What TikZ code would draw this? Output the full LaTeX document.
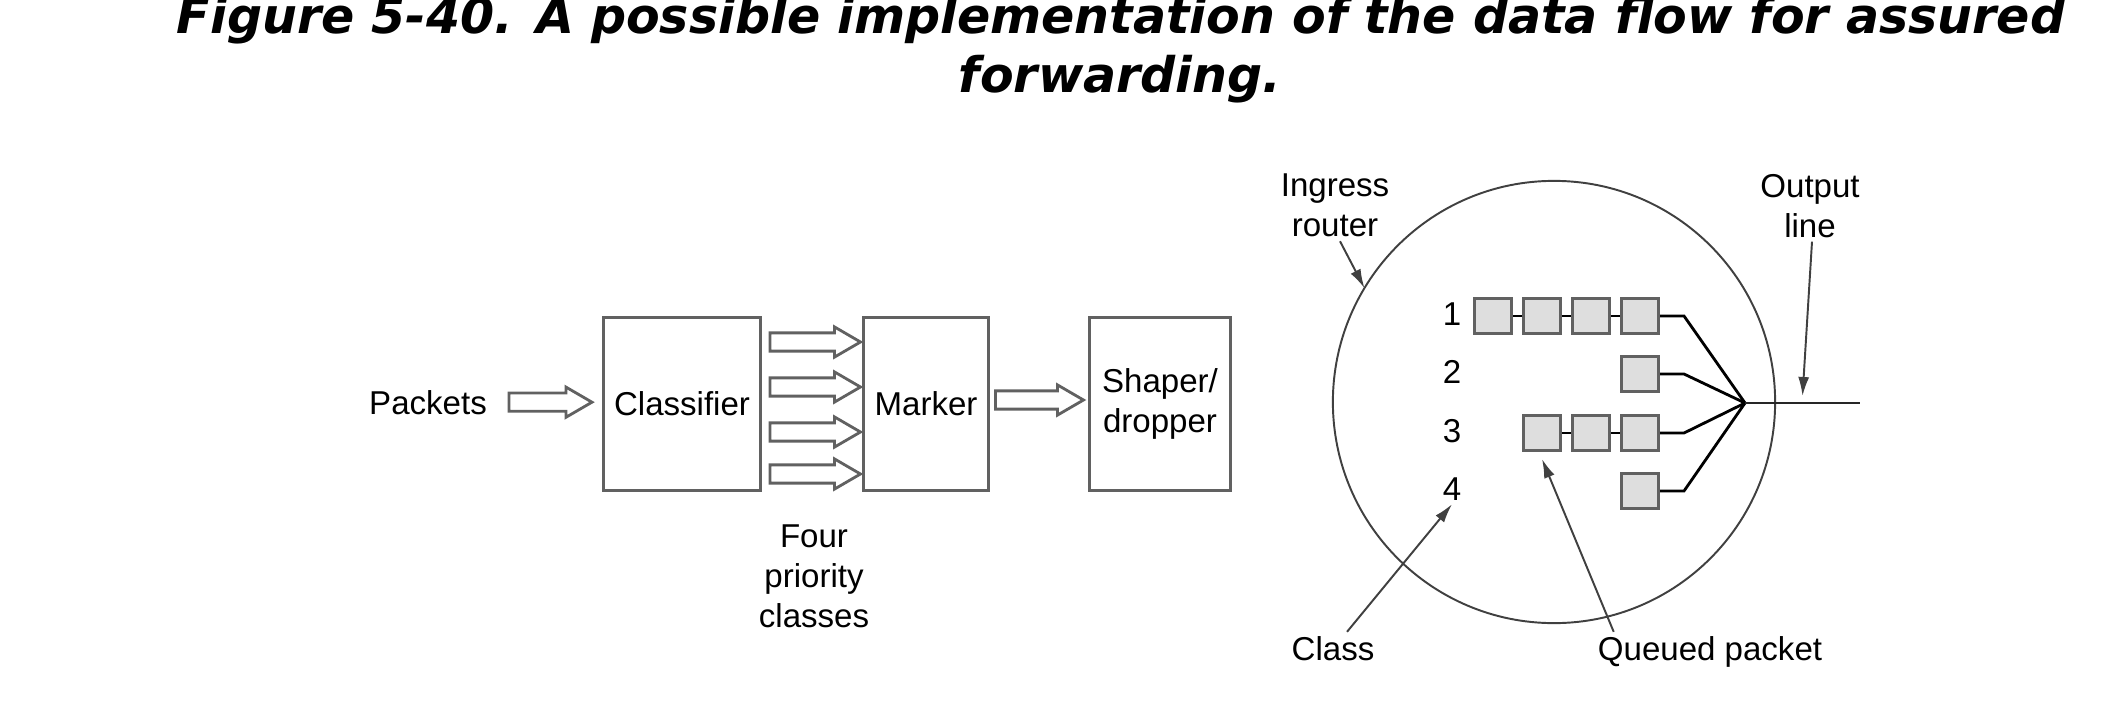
\documentclass[tikz,border=0pt]{standalone}
\usepackage{fontspec}
\setmainfont{Liberation Sans}
\newfontfamily\figtitlefont{DejaVu Sans}
\usepackage{tikz}
\usetikzlibrary{arrows.meta, positioning, shapes, calc}

\definecolor{edgegray}{gray}{0.38}
\definecolor{pktgray}{gray}{0.87}

% hollow block arrow from #1 to the x of #2
\newcommand{\fatarrow}[2]{%
  \draw[hollow] let \p1=#1, \p2=#2 in
    (\x1,\y1+2.6pt) -- (\x2-7.4pt,\y1+2.6pt) -- (\x2-7.4pt,\y1+4.3pt) -- (\x2,\y1)
    -- (\x2-7.4pt,\y1-4.3pt) -- (\x2-7.4pt,\y1-2.6pt) -- (\x1,\y1-2.6pt) -- cycle;}

\begin{document}
\begin{tikzpicture}[x=0.01cm, y=-0.01cm,
    txt/.style={font=\fontsize{9.4pt}{11.3pt}\selectfont, inner sep=1pt, align=center},
    block/.style={txt, draw=edgegray, line width=0.85pt, minimum height=1.73cm},
    pkt/.style={draw=edgegray, fill=pktgray, line width=0.85pt, minimum width=0.37cm, minimum height=0.35cm, inner sep=0pt},
    hollow/.style={draw=edgegray, fill=white, line width=0.8pt},
    link/.style={line width=0.6pt},
    ptr/.style={draw=black!75, line width=0.55pt, -{Latex[length=0.19cm, width=0.11cm]}},
    figtitle/.style={font=\figtitlefont\fontsize{13.95pt}{16.8pt}\selectfont\bfseries\itshape, inner sep=0pt}]
    % Page
    \path[use as bounding box, fill=white] (0,0) rectangle (2118,721);

    % Title
    \node[figtitle, anchor=base] (cap1) at (1121,33) {Figure 5-40. A possible implementation of the data flow for assured};
    \node[figtitle, anchor=base] (cap2) at (1120,92) {forwarding.};

    % Pipeline
    \node[txt, anchor=base] (pk) at (428,414) {Packets};
    \node[block, minimum width=1.57cm] (cls) at (682,404) {Classifier};
    \node[block, minimum width=1.24cm] (mrk) at (926,404) {Marker};
    \node[block, minimum width=1.40cm] (shp) at (1160,404) {Shaper/\\dropper};
    \node[txt, anchor=north] (prio) at (814,521) {Four\\priority\\classes};

    \fatarrow{($(pk.east)+(18,0)$)}{($(cls.west)+(-10,0)$)}
    \foreach \yy in {342,387,432,474} {
        \fatarrow{($(cls.east |- 0,\yy)+(8,0)$)}{($(mrk.west |- 0,\yy)+(-2,0)$)}
    }
    \fatarrow{($(mrk.east)+(6,-4)$)}{($(shp.west)+(-5,0)$)}

    % Router
    \node[circle, draw=black!75, line width=0.55pt, minimum size=4.42cm, inner sep=0pt, outer sep=0pt] (rt) at (1554,402) {};
    \coordinate (fan) at (1745,403);
    \coordinate (oend) at (1860,403);

    % Queues
    \foreach \r/\yy/\n in {1/316/4, 2/374/1, 3/433/3, 4/491/1} {
        \node[txt, anchor=base] (n\r) at (1452,\yy+9) {\r};
        \foreach \k in {1,...,\n} {
            \node[pkt] (q\r\k) at ({1640-49*(\k-1)},\yy) {};
            \ifnum\k>1
                \pgfmathtruncatemacro{\km}{\k-1}
                \draw[link] (q\r\k.east) -- (q\r\km.west);
            \fi
        }
        \draw[link, line width=0.8pt] (q\r1.east) -- ++(24,0) -- (fan);
    }
    \draw[line width=0.85pt, black!85] (fan) -- (oend);

    % Labels
    \node[txt, anchor=north] (ing) at (1335,170) {Ingress\\router};
    \node[txt, anchor=north] (outl) at (1810,170) {Output\\line};
    \node[txt, anchor=base] (cl) at (1333,660) {Class};
    \node[txt, anchor=base] (qp) at (1710,660) {Queued packet};
    \coordinate (otip) at ($(fan)!0.5!(oend)+(0,-7)$);

    \draw[ptr] ([xshift=0.05cm]ing.south) -- (rt.149);
    \draw[ptr] ([xshift=0.02cm]outl.south) -- (otip);
    \draw[ptr] ([xshift=0.14cm]cl.north) -- (n4.south);
    \draw[ptr] ([xshift=0.2cm]qp.north west) -- ([yshift=-0.07cm]q33.south);
\end{tikzpicture}
\end{document}
